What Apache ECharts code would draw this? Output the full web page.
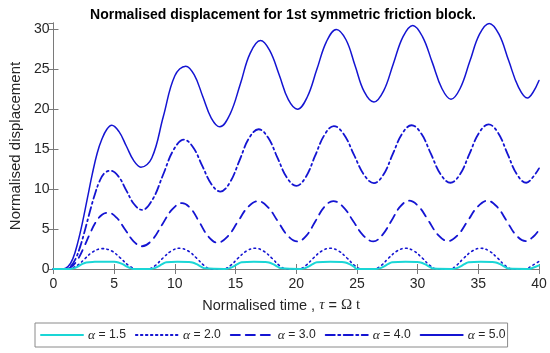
<!DOCTYPE html>
<html>
<head>
<meta charset="utf-8">
<script src="https://cdn.jsdelivr.net/npm/echarts@6/dist/echarts.min.js"></script>
<style>html,body{margin:0;padding:0;background:#fff}#c{width:550px;height:353px}</style>
</head>
<body>
<div id="c"></div>
<script>
// ---- data ----
const alphas = ['1.5', '2.0', '3.0', '4.0', '5.0'];
const xTicks = [0, 5, 10, 15, 20, 25, 30, 35, 40];
const yTicks = [0, 5, 10, 15, 20, 25, 30];

// alpha = 1.5 (cyan, solid)
const t15 = [0,1.3,1.65,2.0,2.35,2.7,3.4,4.2,5.0,5.35,5.7,6.05,6.4,6.6,7.9,8.25,8.6,8.95,9.3,10.2,11.1,11.45,11.8,12.15,12.5,14.1,14.45,14.8,15.15,15.5,16.5,17.4,17.75,18.1,18.45,18.8,20.3,20.65,21.0,21.35,21.7,22.8,23.7,24.05,24.4,24.75,25.0,26.5,26.85,27.2,27.55,27.9,29.0,29.9,30.25,30.6,30.95,31.3,32.8,33.15,33.5,33.85,34.2,35.2,36.1,36.45,36.8,37.15,37.5,39.1,39.5,40];
const y15 = [0,0,0.08,0.3,0.6,0.82,0.9,0.92,0.9,0.82,0.6,0.3,0.08,0,0,0.08,0.3,0.6,0.85,0.92,0.88,0.82,0.6,0.3,0.08,0,0.08,0.3,0.6,0.85,0.92,0.88,0.82,0.6,0.3,0.08,0,0.08,0.3,0.6,0.85,0.92,0.88,0.82,0.6,0.3,0,0,0.08,0.3,0.6,0.85,0.92,0.88,0.82,0.6,0.3,0.05,0,0.08,0.3,0.6,0.85,0.92,0.88,0.82,0.6,0.3,0.05,0,0.15,0.45];

// alpha = 2.0 (dotted)
const t20 = [0,1.2,1.6,2.1,2.6,3.2,4.0,4.8,5.5,6.2,6.9,7.8,8.4,9.0,9.7,10.4,11.1,11.8,12.4,13.0,14.0,14.6,15.2,15.9,16.6,17.3,18.0,18.6,19.2,20.2,20.8,21.4,22.1,22.8,23.5,24.2,24.8,25.4,26.4,27.0,27.6,28.3,29.0,29.7,30.4,31.0,31.6,32.7,33.2,33.8,34.5,35.2,35.9,36.6,37.2,37.8,38.9,39.4,40];
const y20 = [0,0,0.15,0.6,1.3,2.1,2.55,2.25,1.4,0.45,0,0,0.45,1.35,2.25,2.6,2.25,1.35,0.45,0,0,0.45,1.35,2.25,2.6,2.25,1.35,0.45,0,0,0.45,1.35,2.25,2.6,2.25,1.35,0.45,0,0,0.45,1.35,2.25,2.6,2.25,1.35,0.45,0,0,0.45,1.35,2.25,2.6,2.25,1.35,0.45,0,0,0.4,0.95];

// alpha = 3.0 (dashed)
const t30 = [0,1.0,1.5,2.0,2.5,3.0,3.5,4.0,4.5,5.2,5.9,6.6,7.3,8.13,8.95,9.78,10.6,11.33,12.05,12.78,13.5,14.34,15.18,16.01,16.85,17.66,18.48,19.29,20.1,20.84,21.58,22.31,23.05,23.88,24.7,25.53,26.35,27.09,27.83,28.56,29.3,30.1,30.9,31.7,32.5,33.31,34.13,34.94,35.75,36.54,37.33,38.11,38.9,39.5,40];
const y30 = [0,0,0.3,1.2,2.7,4.4,5.9,6.8,7.05,6.43,4.95,3.47,2.85,3.64,5.55,7.46,8.25,7.53,5.78,4.03,3.3,4.06,5.9,7.74,8.5,7.76,5.98,4.19,3.45,4.19,5.98,7.76,8.5,7.76,5.98,4.19,3.45,4.25,6.0,7.8,8.55,7.8,6.03,4.24,3.5,4.24,6.03,7.8,8.55,7.8,6.03,4.24,3.5,4.0,4.9];

// alpha = 4.0 (dash-dot)
const t40 = [0,1.0,1.4,1.8,2.2,2.6,3.0,3.4,3.8,4.2,4.7,5.35,6.0,6.65,7.3,8.16,9.03,9.89,10.75,11.5,12.25,13.0,13.75,14.54,15.33,16.1,16.9,17.68,18.45,19.23,20.0,20.78,21.55,22.33,23.1,23.93,24.75,25.58,26.4,27.18,27.95,28.73,29.5,30.3,31.1,31.9,32.7,33.49,34.28,35.06,35.85,36.63,37.4,38.18,38.95,39.5,40];
const y40 = [0,0,0.3,1.2,2.8,4.9,7.2,9.3,11.0,12.0,12.3,11.6,9.85,8.1,7.4,8.7,11.8,14.9,16.2,15.25,12.95,10.65,9.7,10.85,13.6,16.35,17.5,16.45,13.95,11.45,10.4,11.5,14.15,16.8,17.9,16.85,14.33,11.8,10.75,11.8,14.38,16.95,18.0,16.95,14.4,11.85,10.8,11.85,14.45,17.05,18.1,17.05,14.45,11.85,10.8,11.5,12.6];

// alpha = 5.0 (solid)
const t50 = [0,0.8,1.2,1.6,2.0,2.4,2.8,3.2,3.6,4.0,4.4,4.8,5.4,6.0,6.6,7.2,8.1,9.05,10.0,10.9,11.6,12.3,13.0,13.7,14.55,15.4,16.2,17.05,17.8,18.6,19.35,20.1,20.9,21.7,22.5,23.3,24.1,24.85,25.6,26.4,27.2,28.0,28.8,29.6,30.4,31.2,32.0,32.75,33.5,34.3,35.1,35.9,36.7,37.5,38.3,39.05,39.5,40];
const y50 = [0,0,0.3,1.3,3.3,5.9,8.9,11.9,14.5,16.3,17.5,18.0,17.2,15.4,13.6,12.75,13.9,19.1,24.2,25.4,24.3,21.6,18.9,17.8,19.4,23.2,27.0,28.6,27.4,24.3,21.2,20.0,21.5,25.0,28.5,30.0,28.7,25.45,22.2,20.9,22.3,25.7,29.1,30.5,29.1,25.9,22.6,21.25,22.6,26.0,29.4,30.75,29.4,26.1,22.8,21.4,22.1,23.6];

// ---- build ----
const zip = (t, y) => t.map((v, i) => [v, y[i]]);
const blue = '#1414d2';
const cyan = '#1ad6d6';
const styles = [
  {color: cyan, width: 2, type: 'solid'},
  {color: blue, width: 1.6, type: [1.5, 3.5]},
  {color: blue, width: 1.8, type: [9, 6]},
  {color: blue, width: 1.8, type: [9, 3.5, 2, 3.5]},
  {color: blue, width: 1.5, type: 'solid'}
];
const dataSets = [zip(t15, y15), zip(t20, y20), zip(t30, y30), zip(t40, y40), zip(t50, y50)];

const series = alphas.map((a, i) => ({
  name: 'α = ' + a,
  type: 'line',
  data: dataSets[i],
  smooth: 0.4,
  symbol: 'none',
  showSymbol: false,
  lineStyle: {color: styles[i].color, width: styles[i].width, type: styles[i].type, cap: 'round'},
  itemStyle: {color: styles[i].color},
  z: 10 - i,
  animation: false
}));

const axisCol = '#7a7a7a';
const txtCol = '#262626';
const font = 'Liberation Sans, Arial, Helvetica, sans-serif';

const chart = echarts.init(document.getElementById('c'), null, {renderer: 'canvas'});
chart.setOption({
  animation: false,
  backgroundColor: '#fff',
  title: {
    text: 'Normalised displacement for 1st symmetric friction block.',
    left: 278, top: 3, textAlign: 'center',
    textStyle: {fontFamily: font, fontSize: 14, fontWeight: 'bold', color: '#000'}
  },
  grid: {left: 47, right: 11, top: 23, bottom: 84, containLabel: false},
  xAxis: [{
    type: 'value', min: xTicks[0], max: xTicks[xTicks.length - 1], interval: 5,
    position: 'bottom',
    name: '{n|Normalised time , }{s|τ}{n| = }{o|Ω t}',
    nameLocation: 'middle', nameGap: 29,
    nameTextStyle: {padding: [0, 30, 0, 0], rich: {
      n: {fontFamily: font, fontSize: 14.5, color: txtCol},
      s: {fontFamily: 'Liberation Serif, DejaVu Serif, serif', fontStyle: 'italic', fontSize: 15, color: txtCol},
      o: {fontFamily: 'Liberation Serif, DejaVu Serif, serif', fontSize: 15, color: txtCol}
    }},
    axisLine: {show: true, lineStyle: {color: axisCol, width: 1}},
    axisTick: {show: true, inside: true, length: 5, lineStyle: {color: axisCol}},
    axisLabel: {margin: 8, fontFamily: font, fontSize: 14, color: txtCol},
    splitLine: {show: false}
  }, {
    type: 'value', min: xTicks[0], max: xTicks[xTicks.length - 1], interval: 5,
    position: 'top',
    axisLine: {show: true, lineStyle: {color: axisCol, width: 1}},
    axisTick: {show: true, inside: true, length: 5, lineStyle: {color: axisCol}},
    axisLabel: {show: false}, splitLine: {show: false}
  }],
  yAxis: [{
    type: 'value', min: yTicks[0], max: 30.8, interval: 5,
    position: 'left',
    name: 'Normalised displacement',
    nameLocation: 'middle', nameGap: 29,
    nameTextStyle: {fontFamily: font, fontSize: 15, color: txtCol},
    axisLine: {show: true, lineStyle: {color: axisCol, width: 1}},
    axisTick: {show: true, inside: true, length: 5, lineStyle: {color: axisCol}},
    axisLabel: {margin: 4, fontFamily: font, fontSize: 14, color: txtCol,
      showMaxLabel: false,
      formatter: v => (yTicks.indexOf(v) >= 0 ? String(v) : '')},
    splitLine: {show: false}
  }, {
    type: 'value', min: yTicks[0], max: 30.8, interval: 5,
    position: 'right',
    axisLine: {show: true, lineStyle: {color: axisCol, width: 1}},
    axisTick: {show: true, inside: true, length: 5, lineStyle: {color: axisCol}},
    axisLabel: {show: false}, splitLine: {show: false}
  }],
  legend: {
    left: 35, top: 323,
    orient: 'horizontal',
    padding: [5, 2, 5, 5],
    itemWidth: 42, itemHeight: 14, itemGap: 9,
    borderColor: '#8a8a8a', borderWidth: 1,
    itemStyle: {opacity: 0},
    data: series.map(s => s.name),
    formatter: name => '{a|α}{b|' + name.slice(1) + '}',
    textStyle: {
      fontFamily: font, fontSize: 12, color: txtCol,
      rich: {
        a: {fontFamily: 'Liberation Serif, DejaVu Serif, serif', fontStyle: 'italic', fontSize: 13.5, color: txtCol},
        b: {fontFamily: font, fontSize: 12.2, color: txtCol}
      }
    }
  },
  series: series
});
</script>
</body>
</html>
